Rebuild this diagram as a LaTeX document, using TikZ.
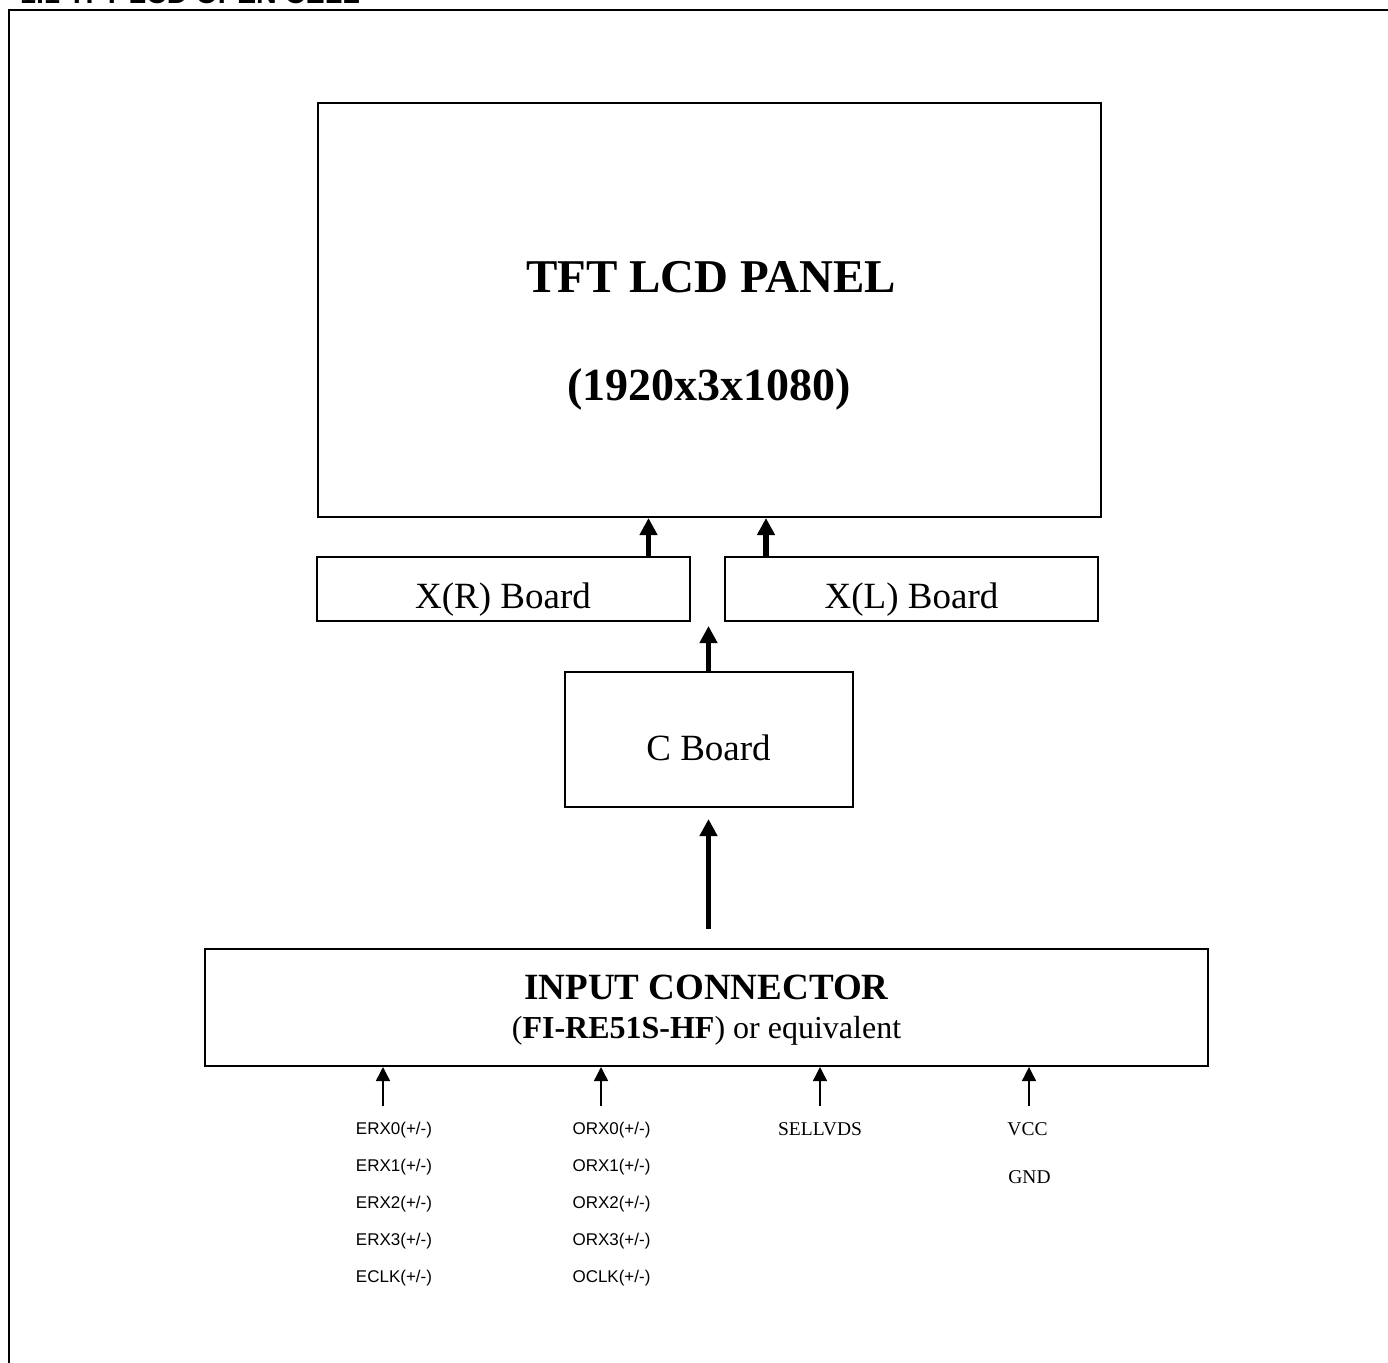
\documentclass[tikz,border=0pt]{standalone}
\usepackage{fontspec}
\setmainfont{Liberation Serif}
\newfontfamily\arialfont{Liberation Sans}
\usetikzlibrary{positioning,arrows.meta,calc}

\begin{document}
\begin{tikzpicture}[x=1pt,y=-1pt,
    box/.style={rectangle, draw, line width=2pt, inner sep=0pt},
    bigarr/.style={-{Triangle[length=17pt,width=17pt]}, line width=5.5pt},
    arr/.style={-{Triangle[length=14pt,width=14pt]}, line width=1.5pt},
    sig/.style={font=\arialfont\fontsize{17}{20}\selectfont, inner sep=0pt},
    sigt/.style={font=\fontsize{19.5}{22}\selectfont, inner sep=0pt}
  ]
    \useasboundingbox (0,0) rectangle (1388,1362);
    \clip (0,0) rectangle (1388,1362);

    % frame and page heading
    \draw[line width=2pt] (9,1380) -- (9,10) -- (1400,10);
    \node[anchor=base west, inner sep=0pt,
          font=\arialfont\bfseries\fontsize{28.7}{30}\selectfont] (title)
          at (20,4) {1.1 TFT LCD OPEN CELL};

    % boxes
    \node[box, minimum width=783pt, minimum height=414pt] (panel) at (709.5,310) {};
    \node[anchor=base, font=\bfseries\fontsize{47}{50}\selectfont] (ptitle)
          at (711,292) {TFT LCD PANEL};
    \node[anchor=base, font=\bfseries\fontsize{46}{50}\selectfont] (pres)
          at (709,400) {(1920x3x1080)};

    \node[box, minimum width=373pt, minimum height=64pt] (xr) at (503,589) {};
    \node[anchor=base, font=\fontsize{37}{40}\selectfont] at (503,608) {X(R) Board};
    \node[box, minimum width=373pt, minimum height=64pt] (xl) at (911.5,589) {};
    \node[anchor=base, font=\fontsize{37}{40}\selectfont] at (911.5,608) {X(L) Board};

    \node[box, minimum width=288pt, minimum height=135pt] (cb) at (708.5,739.5) {};
    \node[anchor=base, font=\fontsize{37}{40}\selectfont] at (708.5,760) {C Board};

    \node[box, minimum width=1003pt, minimum height=117pt] (inp) at (706.5,1007.5) {};
    \node[anchor=base, font=\bfseries\fontsize{37}{40}\selectfont] (ititle)
          at (706.5,999) {INPUT CONNECTOR};
    \node[anchor=base, font=\fontsize{32}{36}\selectfont] (ipart)
          at (706.5,1038) {(\textbf{FI-RE51S-HF}) or equivalent};

    % data flow
    \draw[bigarr] ([xshift=-42pt]xr.north east) -- ([xshift=-42pt]xr.north east |- panel.south);
    \draw[bigarr] ([xshift=42pt]xl.north west) -- ([xshift=42pt]xl.north west |- panel.south);
    \draw[bigarr] (cb.north) -- ($(cb.north)+(0,-45)$);
    \draw[bigarr] ($(cb.south |- inp.north)+(0,-19)$) -- ($(cb.south)+(0,11)$);

    % signal inputs
    \foreach \dx/\nm in {179/le, 397/lo, 616/ls, 825/lp}{
      \coordinate (\nm) at ($(inp.south west)+(\dx,39)$);
      \draw[arr] (\nm) -- (\nm |- inp.south);
    }
    \foreach \s [count=\i from 0] in {ERX0,ERX1,ERX2,ERX3,ECLK}
      \node[sig] (e\i) at (394,{1130+37*\i}) {\s(+/-)};
    \foreach \s [count=\i from 0] in {ORX0,ORX1,ORX2,ORX3,OCLK}
      \node[sig] (o\i) at (611.5,{1130+37*\i}) {\s(+/-)};
    \node[sigt] (sel) at (820,1129) {SELLVDS};
    \node[sigt] (vcc) at (1027.5,1129) {VCC};
    \node[sigt] (gnd) at (1029.5,1177) {GND};
\end{tikzpicture}
\end{document}
